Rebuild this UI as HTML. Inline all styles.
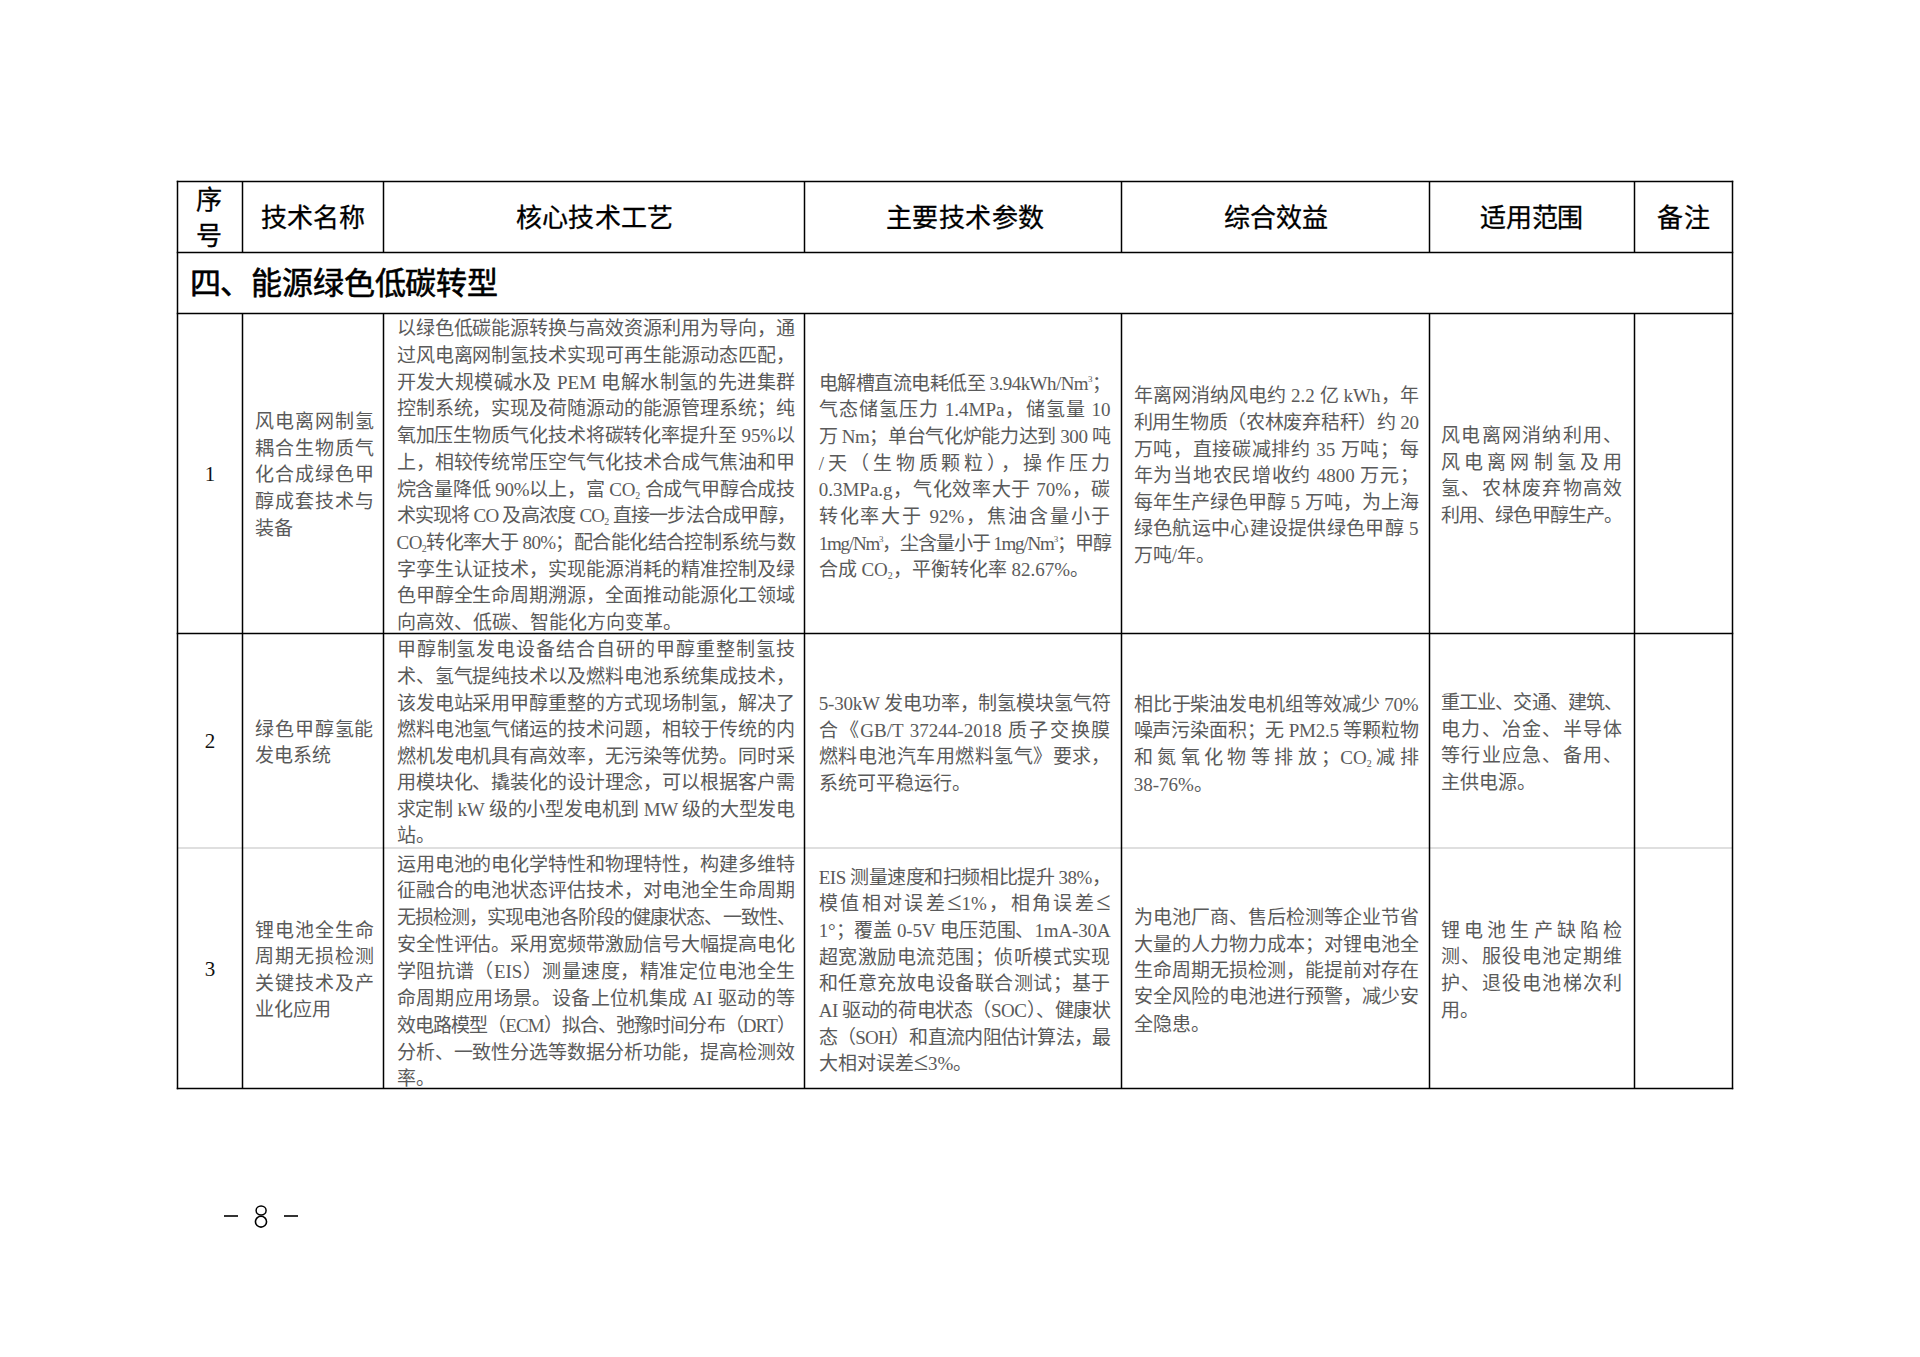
<!DOCTYPE html>
<html lang="zh-CN"><head><meta charset="utf-8"><title>page 8</title>
<style>
html,body{margin:0;padding:0;background:#fff}
#pg{position:relative;width:1920px;height:1357px;overflow:hidden;background:#fff}
.grid{position:absolute;left:0;top:0}
.t{position:absolute;white-space:nowrap;font-family:"Liberation Serif",serif;font-size:19px;line-height:27px;height:27px;color:#5a5a5a}
.j{text-align:justify;text-align-last:justify}
.l{text-align:left}
.sb{font-style:normal;font-size:10px;line-height:0;vertical-align:-3px}
.le{font-style:normal;font-size:26px;line-height:0}
.sp{font-style:normal;font-size:9px;line-height:0;vertical-align:8px}
.h{position:absolute;white-space:nowrap;font-family:"Liberation Serif",serif;font-size:26px;line-height:40px;height:40px;color:#000;-webkit-text-stroke:0.3px #000;text-align:justify;text-align-last:justify}
.sec{position:absolute;white-space:nowrap;font-family:"Liberation Sans",sans-serif;font-size:31px;line-height:40px;color:#000;-webkit-text-stroke:0.6px #000;text-align:justify;text-align-last:justify}
.num{position:absolute;font-family:"Liberation Serif",serif;font-size:21px;line-height:30px;color:#111;width:40px;text-align:center}
.dash{position:absolute;height:2px;background:#333}
.pn{position:absolute;font-family:"Liberation Serif",serif;font-size:36px;line-height:40px;color:#000}
</style></head><body><div id="pg">
<svg class="grid" width="1920" height="1357" viewBox="0 0 1920 1357">
<line x1="176.75" y1="181.5" x2="1733.25" y2="181.5" stroke="#000" stroke-width="1.5"/>
<line x1="176.75" y1="252.4" x2="1733.25" y2="252.4" stroke="#000" stroke-width="1.5"/>
<line x1="176.75" y1="313.4" x2="1733.25" y2="313.4" stroke="#000" stroke-width="1.5"/>
<line x1="176.75" y1="633.5" x2="1733.25" y2="633.5" stroke="#000" stroke-width="1.5"/>
<line x1="176.75" y1="1088.5" x2="1733.25" y2="1088.5" stroke="#000" stroke-width="1.5"/>
<line x1="177.5" y1="848" x2="1732.5" y2="848" stroke="#d4d4d4" stroke-width="1.6"/>
<line x1="177.5" y1="180.75" x2="177.5" y2="1089.25" stroke="#000" stroke-width="1.5"/>
<line x1="1732.5" y1="180.75" x2="1732.5" y2="1089.25" stroke="#000" stroke-width="1.5"/>
<line x1="242.5" y1="181.5" x2="242.5" y2="252.4" stroke="#000" stroke-width="1.5"/>
<line x1="242.5" y1="313.4" x2="242.5" y2="1088.5" stroke="#000" stroke-width="1.5"/>
<line x1="383.5" y1="181.5" x2="383.5" y2="252.4" stroke="#000" stroke-width="1.5"/>
<line x1="383.5" y1="313.4" x2="383.5" y2="1088.5" stroke="#000" stroke-width="1.5"/>
<line x1="804.5" y1="181.5" x2="804.5" y2="252.4" stroke="#000" stroke-width="1.5"/>
<line x1="804.5" y1="313.4" x2="804.5" y2="1088.5" stroke="#000" stroke-width="1.5"/>
<line x1="1121.5" y1="181.5" x2="1121.5" y2="252.4" stroke="#000" stroke-width="1.5"/>
<line x1="1121.5" y1="313.4" x2="1121.5" y2="1088.5" stroke="#000" stroke-width="1.5"/>
<line x1="1429.5" y1="181.5" x2="1429.5" y2="252.4" stroke="#000" stroke-width="1.5"/>
<line x1="1429.5" y1="313.4" x2="1429.5" y2="1088.5" stroke="#000" stroke-width="1.5"/>
<line x1="1634.5" y1="181.5" x2="1634.5" y2="252.4" stroke="#000" stroke-width="1.5"/>
<line x1="1634.5" y1="313.4" x2="1634.5" y2="1088.5" stroke="#000" stroke-width="1.5"/>
</svg>
<div class="h" style="left:261.0px;top:198.8px;width:104.0px;letter-spacing:-0.15px">技术名称</div>
<div class="h" style="left:515.7px;top:198.8px;width:157.8px">核心技术工艺</div>
<div class="h" style="left:885.6px;top:198.8px;width:158.4px">主要技术参数</div>
<div class="h" style="left:1224.0px;top:198.8px;width:103.6px;letter-spacing:-0.25px">综合效益</div>
<div class="h" style="left:1480.0px;top:198.8px;width:103.0px;letter-spacing:-0.40px">适用范围</div>
<div class="h" style="left:1657.4px;top:198.8px;width:52.9px">备注</div>
<div class="h" style="left:196.4px;top:181.0px">序</div>
<div class="h" style="left:196.4px;top:216.7px">号</div>
<div class="sec" style="left:189.5px;top:264.3px;width:308.5px;letter-spacing:-0.21px">四、能源绿色低碳转型</div>
<div class="num" style="left:190px;top:459.0px">1</div>
<div class="num" style="left:190px;top:726.0px">2</div>
<div class="num" style="left:190px;top:954.0px">3</div>
<div class="t j" style="left:254.5px;top:408.0px;width:119.5px">风电离网制氢</div>
<div class="t j" style="left:254.5px;top:434.6px;width:119.5px">耦合生物质气</div>
<div class="t j" style="left:254.5px;top:461.2px;width:119.5px">化合成绿色甲</div>
<div class="t j" style="left:254.5px;top:487.8px;width:119.5px">醇成套技术与</div>
<div class="t l" style="left:254.5px;top:515.3px;width:119.5px">装备</div>
<div class="t j" style="left:396.6px;top:315.3px;width:398.4px;letter-spacing:-0.06px">以绿色低碳能源转换与高效资源利用为导向，通</div>
<div class="t j" style="left:396.6px;top:342.0px;width:398.4px;letter-spacing:-0.06px">过风电离网制氢技术实现可再生能源动态匹配，</div>
<div class="t j" style="left:396.6px;top:368.7px;width:398.4px">开发大规模碱水及 PEM 电解水制氢的先进集群</div>
<div class="t j" style="left:396.6px;top:395.4px;width:398.4px;letter-spacing:-0.06px">控制系统，实现及荷随源动的能源管理系统；纯</div>
<div class="t j" style="left:396.6px;top:422.1px;width:398.4px;letter-spacing:-0.12px">氧加压生物质气化技术将碳转化率提升至 95%以</div>
<div class="t j" style="left:396.6px;top:448.8px;width:398.4px;letter-spacing:-0.06px">上，相较传统常压空气气化技术合成气焦油和甲</div>
<div class="t j" style="left:396.6px;top:475.5px;width:398.4px;letter-spacing:-0.22px">烷含量降低 90%以上，富 CO<i class="sb">2</i> 合成气甲醇合成技</div>
<div class="t j" style="left:396.6px;top:502.2px;width:398.4px;letter-spacing:-0.78px">术实现将 CO 及高浓度 CO<i class="sb">2</i> 直接一步法合成甲醇，</div>
<div class="t j" style="left:396.6px;top:528.9px;width:398.4px;letter-spacing:-0.61px">CO<i class="sb">2</i>转化率大于 80%；配合能化结合控制系统与数</div>
<div class="t j" style="left:396.6px;top:555.6px;width:398.4px;letter-spacing:-0.06px">字孪生认证技术，实现能源消耗的精准控制及绿</div>
<div class="t j" style="left:396.6px;top:582.3px;width:398.4px;letter-spacing:-0.06px">色甲醇全生命周期溯源，全面推动能源化工领域</div>
<div class="t l" style="left:396.6px;top:609.0px;width:398.4px">向高效、低碳、智能化方向变革。</div>
<div class="t j" style="left:818.7px;top:369.5px;width:291.8px;letter-spacing:-0.55px">电解槽直流电耗低至 3.94kWh/Nm<i class="sp">3</i>；</div>
<div class="t j" style="left:818.7px;top:396.2px;width:291.8px">气态储氢压力 1.4MPa，储氢量 10</div>
<div class="t j" style="left:818.7px;top:422.8px;width:291.8px;letter-spacing:-0.40px">万 Nm；单台气化炉能力达到 300 吨</div>
<div class="t j" style="left:818.7px;top:449.5px;width:291.8px">/天（生物质颗粒），操作压力</div>
<div class="t j" style="left:818.7px;top:476.2px;width:291.8px">0.3MPa.g，气化效率大于 70%，碳</div>
<div class="t j" style="left:818.7px;top:502.9px;width:291.8px">转化率大于 92%，焦油含量小于</div>
<div class="t j" style="left:818.7px;top:529.5px;width:291.8px;letter-spacing:-1.19px">1mg/Nm<i class="sp">3</i>，尘含量小于 1mg/Nm<i class="sp">3</i>；甲醇</div>
<div class="t l" style="left:818.7px;top:556.2px;width:291.8px">合成 CO<i class="sb">2</i>，平衡转化率 82.67%。</div>
<div class="t j" style="left:1133.7px;top:382.3px;width:284.9px">年离网消纳风电约 2.2 亿 kWh，年</div>
<div class="t j" style="left:1133.7px;top:408.9px;width:284.9px;letter-spacing:-0.32px">利用生物质（农林废弃秸秆）约 20</div>
<div class="t j" style="left:1133.7px;top:435.5px;width:284.9px">万吨，直接碳减排约 35 万吨；每</div>
<div class="t j" style="left:1133.7px;top:462.1px;width:284.9px">年为当地农民增收约 4800 万元；</div>
<div class="t j" style="left:1133.7px;top:488.7px;width:284.9px;letter-spacing:-0.04px">每年生产绿色甲醇 5 万吨，为上海</div>
<div class="t j" style="left:1133.7px;top:515.3px;width:284.9px">绿色航运中心建设提供绿色甲醇 5</div>
<div class="t l" style="left:1133.7px;top:541.9px;width:284.9px">万吨/年。</div>
<div class="t j" style="left:1441.0px;top:421.8px;width:181.0px">风电离网消纳利用、</div>
<div class="t j" style="left:1441.0px;top:448.6px;width:181.0px">风电离网制氢及用</div>
<div class="t j" style="left:1441.0px;top:474.8px;width:181.0px">氢、农林废弃物高效</div>
<div class="t j" style="left:1441.0px;top:502.2px;width:181.0px;letter-spacing:-0.96px">利用、绿色甲醇生产。</div>
<div class="t j" style="left:254.7px;top:716.0px;width:118.8px">绿色甲醇氢能</div>
<div class="t l" style="left:254.7px;top:742.2px;width:118.8px">发电系统</div>
<div class="t j" style="left:396.6px;top:636.4px;width:398.4px">甲醇制氢发电设备结合自研的甲醇重整制氢技</div>
<div class="t j" style="left:396.6px;top:662.9px;width:398.4px;letter-spacing:-0.06px">术、氢气提纯技术以及燃料电池系统集成技术，</div>
<div class="t j" style="left:396.6px;top:689.5px;width:398.4px;letter-spacing:-0.06px">该发电站采用甲醇重整的方式现场制氢，解决了</div>
<div class="t j" style="left:396.6px;top:716.0px;width:398.4px;letter-spacing:-0.06px">燃料电池氢气储运的技术问题，相较于传统的内</div>
<div class="t j" style="left:396.6px;top:742.6px;width:398.4px;letter-spacing:-0.06px">燃机发电机具有高效率，无污染等优势。同时采</div>
<div class="t j" style="left:396.6px;top:769.1px;width:398.4px;letter-spacing:-0.06px">用模块化、撬装化的设计理念，可以根据客户需</div>
<div class="t j" style="left:396.6px;top:795.7px;width:398.4px;letter-spacing:-0.23px">求定制 kW 级的小型发电机到 MW 级的大型发电</div>
<div class="t l" style="left:396.6px;top:822.2px;width:398.4px">站。</div>
<div class="t j" style="left:818.7px;top:690.3px;width:291.8px;letter-spacing:-0.18px">5-30kW 发电功率，制氢模块氢气符</div>
<div class="t j" style="left:818.7px;top:717.0px;width:291.8px">合《GB/T 37244-2018 质子交换膜</div>
<div class="t j" style="left:818.7px;top:742.8px;width:291.8px">燃料电池汽车用燃料氢气》要求，</div>
<div class="t l" style="left:818.7px;top:769.5px;width:291.8px">系统可平稳运行。</div>
<div class="t j" style="left:1133.7px;top:690.7px;width:284.9px;letter-spacing:-0.13px">相比于柴油发电机组等效减少 70%</div>
<div class="t j" style="left:1133.7px;top:717.4px;width:284.9px;letter-spacing:-0.23px">噪声污染面积；无 PM2.5 等颗粒物</div>
<div class="t j" style="left:1133.7px;top:744.0px;width:284.9px">和氮氧化物等排放；CO<i class="sb">2</i>减排</div>
<div class="t l" style="left:1133.7px;top:771.4px;width:284.9px">38-76%。</div>
<div class="t j" style="left:1441.0px;top:689.0px;width:181.0px;letter-spacing:-0.96px">重工业、交通、建筑、</div>
<div class="t j" style="left:1441.0px;top:715.8px;width:181.0px">电力、冶金、半导体</div>
<div class="t j" style="left:1441.0px;top:742.0px;width:181.0px">等行业应急、备用、</div>
<div class="t l" style="left:1441.0px;top:768.9px;width:181.0px">主供电源。</div>
<div class="t j" style="left:254.7px;top:916.7px;width:118.9px">锂电池全生命</div>
<div class="t j" style="left:254.7px;top:943.0px;width:118.9px">周期无损检测</div>
<div class="t j" style="left:254.7px;top:969.7px;width:118.9px">关键技术及产</div>
<div class="t l" style="left:254.7px;top:996.0px;width:118.9px">业化应用</div>
<div class="t j" style="left:396.6px;top:850.5px;width:398.4px;letter-spacing:-0.06px">运用电池的电化学特性和物理特性，构建多维特</div>
<div class="t j" style="left:396.6px;top:877.4px;width:398.4px;letter-spacing:-0.06px">征融合的电池状态评估技术，对电池全生命周期</div>
<div class="t j" style="left:396.6px;top:904.2px;width:398.4px;letter-spacing:-0.92px">无损检测，实现电池各阶段的健康状态、一致性、</div>
<div class="t j" style="left:396.6px;top:931.0px;width:398.4px;letter-spacing:-0.06px">安全性评估。采用宽频带激励信号大幅提高电化</div>
<div class="t j" style="left:396.6px;top:957.9px;width:398.4px">学阻抗谱（EIS）测量速度，精准定位电池全生</div>
<div class="t j" style="left:396.6px;top:984.8px;width:398.4px">命周期应用场景。设备上位机集成 AI 驱动的等</div>
<div class="t j" style="left:396.6px;top:1011.6px;width:398.4px;letter-spacing:-0.93px">效电路模型（ECM）拟合、弛豫时间分布（DRT）</div>
<div class="t j" style="left:396.6px;top:1038.5px;width:398.4px;letter-spacing:-0.06px">分析、一致性分选等数据分析功能，提高检测效</div>
<div class="t l" style="left:396.6px;top:1065.3px;width:398.4px">率。</div>
<div class="t j" style="left:818.7px;top:863.7px;width:291.8px;letter-spacing:-0.48px">EIS 测量速度和扫频相比提升 38%，</div>
<div class="t j" style="left:818.7px;top:890.4px;width:291.8px">模值相对误差<i class="le">≤</i>1%，相角误差<i class="le">≤</i></div>
<div class="t j" style="left:818.7px;top:917.0px;width:291.8px;letter-spacing:-0.14px">1°；覆盖 0-5V 电压范围、1mA-30A</div>
<div class="t j" style="left:818.7px;top:943.7px;width:291.8px">超宽激励电流范围；侦听模式实现</div>
<div class="t j" style="left:818.7px;top:970.3px;width:291.8px">和任意充放电设备联合测试；基于</div>
<div class="t j" style="left:818.7px;top:997.0px;width:291.8px;letter-spacing:-0.45px">AI 驱动的荷电状态（SOC）、健康状</div>
<div class="t j" style="left:818.7px;top:1023.7px;width:291.8px;letter-spacing:-0.75px">态（SOH）和直流内阻估计算法，最</div>
<div class="t l" style="left:818.7px;top:1050.3px;width:291.8px">大相对误差<i class="le">≤</i>3%。</div>
<div class="t j" style="left:1133.7px;top:904.1px;width:284.9px;letter-spacing:-0.05px">为电池厂商、售后检测等企业节省</div>
<div class="t j" style="left:1133.7px;top:930.7px;width:284.9px;letter-spacing:-0.05px">大量的人力物力成本；对锂电池全</div>
<div class="t j" style="left:1133.7px;top:956.6px;width:284.9px;letter-spacing:-0.05px">生命周期无损检测，能提前对存在</div>
<div class="t j" style="left:1133.7px;top:983.2px;width:284.9px;letter-spacing:-0.05px">安全风险的电池进行预警，减少安</div>
<div class="t l" style="left:1133.7px;top:1010.7px;width:284.9px">全隐患。</div>
<div class="t j" style="left:1441.0px;top:916.7px;width:181.0px">锂电池生产缺陷检</div>
<div class="t j" style="left:1441.0px;top:943.0px;width:181.0px">测、服役电池定期维</div>
<div class="t j" style="left:1441.0px;top:969.7px;width:181.0px">护、退役电池梯次利</div>
<div class="t l" style="left:1441.0px;top:996.5px;width:181.0px">用。</div>
<div class="dash" style="left:224px;top:1215px;width:14px"></div>
<svg style="position:absolute;left:0;top:0" width="320" height="1240" viewBox="0 0 320 1240"><ellipse cx="261.1" cy="1210.4" rx="5.0" ry="4.5" fill="none" stroke="#000" stroke-width="1.5"/><ellipse cx="261" cy="1221.7" rx="5.55" ry="5.4" fill="none" stroke="#000" stroke-width="1.6"/></svg>
<div class="dash" style="left:284px;top:1215px;width:14px"></div>
</div></body></html>
